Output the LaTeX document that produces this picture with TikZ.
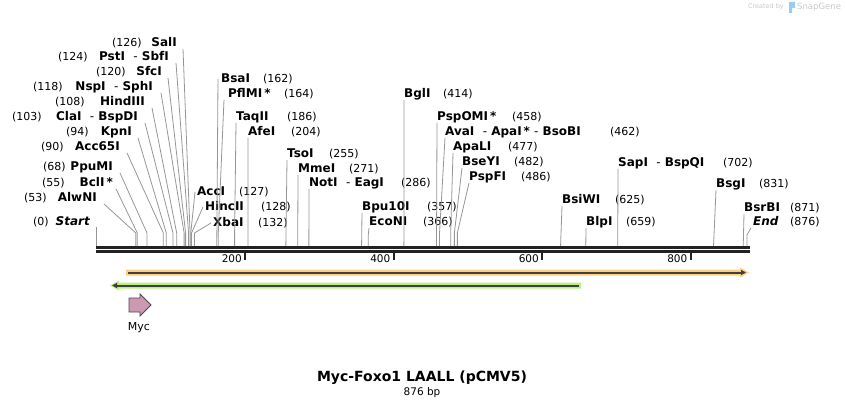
\documentclass[tikz,border=0pt]{standalone}
\usepackage{fontspec}
\setmainfont{DejaVu Sans}[ItalicFont={DejaVu Sans Oblique},BoldItalicFont={DejaVu Sans Bold Oblique}]
\usetikzlibrary{positioning,arrows.meta}

\definecolor{sitegray}{RGB}{150,150,150}
\definecolor{seqblack}{RGB}{34,34,34}
\definecolor{mycpink}{RGB}{204,153,179}
\definecolor{mycedge}{RGB}{80,70,76}
\definecolor{orangehalo}{RGB}{252,206,128}
\definecolor{greenhalo}{RGB}{186,240,130}
\definecolor{featdark}{RGB}{64,64,64}
\definecolor{creditgray}{RGB}{200,200,200}
\definecolor{crediticon}{RGB}{150,205,245}

\tikzset{
  cutname/.style={font=\bfseries\fontsize{12}{14}\selectfont, inner sep=0pt, text height=9pt, text depth=2.5pt},
  cutpos/.style={font=\fontsize{11}{13}\selectfont, inner sep=0pt, text height=9pt, text depth=2.5pt},
  cutline/.style={draw=sitegray, line width=0.8pt},
  seqline/.style={draw=seqblack, line width=3pt},
  tickline/.style={draw=seqblack, line width=2pt},
  rulerlabel/.style={font=\fontsize{10.5}{12}\selectfont, inner sep=0pt, anchor=east},
  featline/.style={draw=featdark, line width=2pt},
  mycarrow/.style={draw=mycedge, fill=mycpink, line width=0.8pt, line join=miter},
  featlabel/.style={font=\fontsize{11}{13}\selectfont, inner sep=0pt},
  titletext/.style={font=\bfseries\fontsize{14}{16}\selectfont, inner sep=0pt},
  sizetext/.style={font=\fontsize{10.5}{12}\selectfont, inner sep=0pt},
  credittext/.style={text=creditgray, inner sep=0pt}
}

\begin{document}
\begin{tikzpicture}[x=1pt, y=-1pt, declare function={bp(\p)=96.5+0.7425*\p;}]
  \useasboundingbox (0,0) rectangle (846,409);

  % Sequence
  \draw[seqline] (96,247.5) -- (750,247.5);
  \draw[seqline] (96,251.5) -- (750,251.5);

  % Ruler
  \coordinate (t200) at ({bp(200)},253);
  \coordinate (t400) at ({bp(400)},253);
  \coordinate (t600) at ({bp(600)},253);
  \coordinate (t800) at ({bp(800)},253);
  \draw[tickline] (t200) -- ++(0,7);
  \draw[tickline] (t400) -- ++(0,7);
  \draw[tickline] (t600) -- ++(0,7);
  \draw[tickline] (t800) -- ++(0,7);
  \node[rulerlabel] (l200) at ({bp(200)-3},259) {200};
  \node[rulerlabel] (l400) at ({bp(400)-3},259) {400};
  \node[rulerlabel] (l600) at ({bp(600)-3},259) {600};
  \node[rulerlabel] (l800) at ({bp(800)-3},259) {800};

  % Left labels
  \node[cutname, anchor=east] (start) at (90,222) {\itshape Start};
  \node[cutpos, anchor=west] (start-n) at (33,222) {(0)};
  \node[cutname, anchor=east] (alwni) at (97,198) {AlwNI};
  \node[cutpos, anchor=west] (alwni-n) at (24,198) {(53)};
  \node[cutname, anchor=east] (bcli) at (113,183) {BclI\,*};
  \node[cutpos, anchor=west] (bcli-n) at (42,183) {(55)};
  \node[cutname, anchor=east] (ppumi) at (113,167) {PpuMI};
  \node[cutpos, anchor=west] (ppumi-n) at (43,167) {(68)};
  \node[cutname, anchor=east] (acc65i) at (120,147) {Acc65I};
  \node[cutpos, anchor=west] (acc65i-n) at (41,147) {(90)};
  \node[cutname, anchor=east] (kpni) at (132,132) {KpnI};
  \node[cutpos, anchor=west] (kpni-n) at (66,132) {(94)};
  \node[cutname, anchor=east] (clai) at (138,117) {ClaI \ {\mdseries -} BspDI};
  \node[cutpos, anchor=west] (clai-n) at (12,117) {(103)};
  \node[cutname, anchor=east] (hindiii) at (145,102) {HindIII};
  \node[cutpos, anchor=west] (hindiii-n) at (55,102) {(108)};
  \node[cutname, anchor=east] (nspi) at (153,87) {NspI \ {\mdseries -} SphI};
  \node[cutpos, anchor=west] (nspi-n) at (33,87) {(118)};
  \node[cutname, anchor=east] (sfci) at (162,72) {SfcI};
  \node[cutpos, anchor=west] (sfci-n) at (96,72) {(120)};
  \node[cutname, anchor=east] (psti) at (169,57) {PstI \ {\mdseries -} SbfI};
  \node[cutpos, anchor=west] (psti-n) at (58,57) {(124)};
  \node[cutname, anchor=east] (sali) at (177,43) {SalI};
  \node[cutpos, anchor=west] (sali-n) at (112,43) {(126)};

  % Right labels
  \node[cutname, anchor=west] (acci) at (197,192) {AccI};
  \node[cutpos, anchor=west] (acci-n) at (239,192) {(127)};
  \node[cutname, anchor=west] (hincii) at (205,207) {HincII};
  \node[cutpos, anchor=west] (hincii-n) at (261,207) {(128)};
  \node[cutname, anchor=west] (xbai) at (213,223) {XbaI};
  \node[cutpos, anchor=west] (xbai-n) at (258,223) {(132)};
  \node[cutname, anchor=west] (bsai) at (221,79) {BsaI};
  \node[cutpos, anchor=west] (bsai-n) at (263,79) {(162)};
  \node[cutname, anchor=west] (pflmi) at (228,94) {PflMI\,*};
  \node[cutpos, anchor=west] (pflmi-n) at (284,94) {(164)};
  \node[cutname, anchor=west] (taqii) at (236,117) {TaqII};
  \node[cutpos, anchor=west] (taqii-n) at (287,117) {(186)};
  \node[cutname, anchor=west] (afei) at (248,132) {AfeI};
  \node[cutpos, anchor=west] (afei-n) at (291,132) {(204)};
  \node[cutname, anchor=west] (tsoi) at (287,154) {TsoI};
  \node[cutpos, anchor=west] (tsoi-n) at (329,154) {(255)};
  \node[cutname, anchor=west] (mmei) at (298,169) {MmeI};
  \node[cutpos, anchor=west] (mmei-n) at (349,169) {(271)};
  \node[cutname, anchor=west] (noti) at (309,183) {NotI \ {\mdseries -} EagI};
  \node[cutpos, anchor=west] (noti-n) at (401,183) {(286)};
  \node[cutname, anchor=west] (bpu10i) at (362,207) {Bpu10I};
  \node[cutpos, anchor=west] (bpu10i-n) at (427,207) {(357)};
  \node[cutname, anchor=west] (econi) at (369,222) {EcoNI};
  \node[cutpos, anchor=west] (econi-n) at (423,222) {(366)};
  \node[cutname, anchor=west] (bgli) at (404,94) {BglI};
  \node[cutpos, anchor=west] (bgli-n) at (443,94) {(414)};
  \node[cutname, anchor=west] (pspomi) at (437,117) {PspOMI\,*};
  \node[cutpos, anchor=west] (pspomi-n) at (512,117) {(458)};
  \node[cutname, anchor=west] (avai) at (445,132) {AvaI \ {\mdseries -} ApaI\,* {\mdseries -} BsoBI};
  \node[cutpos, anchor=west] (avai-n) at (610,132) {(462)};
  \node[cutname, anchor=west] (apali) at (453,147) {ApaLI};
  \node[cutpos, anchor=west] (apali-n) at (508,147) {(477)};
  \node[cutname, anchor=west] (bseyi) at (462,162) {BseYI};
  \node[cutpos, anchor=west] (bseyi-n) at (514,162) {(482)};
  \node[cutname, anchor=west] (pspfi) at (469,177) {PspFI};
  \node[cutpos, anchor=west] (pspfi-n) at (521,177) {(486)};
  \node[cutname, anchor=west] (bsiwi) at (562,200) {BsiWI};
  \node[cutpos, anchor=west] (bsiwi-n) at (615,200) {(625)};
  \node[cutname, anchor=west] (blpi) at (586,222) {BlpI};
  \node[cutpos, anchor=west] (blpi-n) at (626,222) {(659)};
  \node[cutname, anchor=west] (sapi) at (618,163) {SapI \ {\mdseries -} BspQI};
  \node[cutpos, anchor=west] (sapi-n) at (723,163) {(702)};
  \node[cutname, anchor=west] (bsgi) at (716,184) {BsgI};
  \node[cutpos, anchor=west] (bsgi-n) at (759,184) {(831)};
  \node[cutname, anchor=west] (bsrbi) at (744,208) {BsrBI};
  \node[cutpos, anchor=west] (bsrbi-n) at (790,208) {(871)};
  \node[cutname, anchor=west] (end) at (753,222) {\itshape End};
  \node[cutpos, anchor=west] (end-n) at (790,222) {(876)};

  % Sites
  \coordinate (start-s) at ({bp(0)},246);
  \coordinate (alwni-s) at ({bp(53)},246);
  \coordinate (bcli-s) at ({bp(55)},246);
  \coordinate (ppumi-s) at ({bp(68)},246);
  \coordinate (acc65i-s) at ({bp(90)},246);
  \coordinate (kpni-s) at ({bp(94)},246);
  \coordinate (clai-s) at ({bp(103)},246);
  \coordinate (hindiii-s) at ({bp(108)},246);
  \coordinate (nspi-s) at ({bp(118)},246);
  \coordinate (sfci-s) at ({bp(120)},246);
  \coordinate (psti-s) at ({bp(124)},246);
  \coordinate (sali-s) at ({bp(126)},246);
  \coordinate (acci-s) at ({bp(127)},246);
  \coordinate (hincii-s) at ({bp(128)},246);
  \coordinate (xbai-s) at ({bp(132)},246);
  \coordinate (bsai-s) at ({bp(162)},246);
  \coordinate (pflmi-s) at ({bp(164)},246);
  \coordinate (taqii-s) at ({bp(186)},246);
  \coordinate (afei-s) at ({bp(204)},246);
  \coordinate (tsoi-s) at ({bp(255)},246);
  \coordinate (mmei-s) at ({bp(271)},246);
  \coordinate (noti-s) at ({bp(286)},246);
  \coordinate (bpu10i-s) at ({bp(357)},246);
  \coordinate (econi-s) at ({bp(366)},246);
  \coordinate (bgli-s) at ({bp(414)},246);
  \coordinate (pspomi-s) at ({bp(458)},246);
  \coordinate (avai-s) at ({bp(462)},246);
  \coordinate (apali-s) at ({bp(477)},246);
  \coordinate (bseyi-s) at ({bp(482)},246);
  \coordinate (pspfi-s) at ({bp(486)},246);
  \coordinate (bsiwi-s) at ({bp(625)},246);
  \coordinate (blpi-s) at ({bp(659)},246);
  \coordinate (sapi-s) at ({bp(702)},246);
  \coordinate (bsgi-s) at ({bp(831)},246);
  \coordinate (bsrbi-s) at ({bp(871)},246);
  \coordinate (end-s) at ({bp(876)},246);

  % Lines
  \draw[cutline] ([yshift=19pt]start-s) -- (start-s);
  \draw[cutline] ([xshift=7pt]alwni.south east) -- ([yshift=13pt]alwni-s) -- (alwni-s);
  \draw[cutline] ([xshift=3pt]bcli.south east) -- ([yshift=13pt]bcli-s) -- (bcli-s);
  \draw[cutline] ([xshift=7pt]ppumi.south east) -- ([yshift=13pt]ppumi-s) -- (ppumi-s);
  \draw[cutline] ([xshift=7pt]acc65i.south east) -- ([yshift=13pt]acc65i-s) -- (acc65i-s);
  \draw[cutline] ([xshift=6pt]kpni.south east) -- ([yshift=13pt]kpni-s) -- (kpni-s);
  \draw[cutline] ([xshift=7pt]clai.south east) -- ([yshift=13pt]clai-s) -- (clai-s);
  \draw[cutline] ([xshift=7pt]hindiii.south east) -- ([yshift=13pt]hindiii-s) -- (hindiii-s);
  \draw[cutline] ([xshift=8pt]nspi.south east) -- ([yshift=13pt]nspi-s) -- (nspi-s);
  \draw[cutline] ([xshift=6pt]sfci.south east) -- ([yshift=13pt]sfci-s) -- (sfci-s);
  \draw[cutline] ([xshift=7pt]psti.south east) -- ([yshift=13pt]psti-s) -- (psti-s);
  \draw[cutline] ([xshift=6pt]sali.south east) -- ([yshift=13pt]sali-s) -- (sali-s);
  \draw[cutline] ([xshift=-2pt]acci.west) -- ([yshift=13pt]acci-s) -- (acci-s);
  \draw[cutline] ([xshift=-2pt]hincii.west) -- ([yshift=13pt]hincii-s) -- (hincii-s);
  \draw[cutline] ([xshift=-2pt]xbai.west) -- ([yshift=13pt]xbai-s) -- (xbai-s);
  \draw[cutline] ([xshift=-3pt]bsai.west) -- (bsai-s);
  \draw[cutline] ([xshift=-4pt]pflmi.south west) -- ([yshift=13pt]pflmi-s) -- (pflmi-s);
  \draw[cutline] (taqii.south west) -- ([yshift=13pt]taqii-s) -- (taqii-s);
  \draw[cutline] (afei.south west) -- (afei-s);
  \draw[cutline] (tsoi.south west) -- (tsoi-s);
  \draw[cutline] (mmei.south west) -- (mmei-s);
  \draw[cutline] (noti.south west) -- (noti-s);
  \draw[cutline] (bpu10i.south west) -- (bpu10i-s);
  \draw[cutline] (econi.south west) -- ([yshift=11pt]econi-s) -- (econi-s);
  \draw[cutline] (bgli.south west) -- (bgli-s);
  \draw[cutline] (pspomi.south west) -- ([yshift=13pt]pspomi-s) -- (pspomi-s);
  \draw[cutline] (avai.south west) -- ([yshift=13pt]avai-s) -- (avai-s);
  \draw[cutline] (apali.south west) -- ([yshift=13pt]apali-s) -- (apali-s);
  \draw[cutline] (bseyi.south west) -- ([yshift=13pt]bseyi-s) -- (bseyi-s);
  \draw[cutline] (pspfi.south west) -- ([yshift=13pt]pspfi-s) -- (pspfi-s);
  \draw[cutline] (bsiwi.south west) -- (bsiwi-s);
  \draw[cutline] (blpi.south west) -- (blpi-s);
  \draw[cutline] (sapi.south west) -- (sapi-s);
  \draw[cutline] (bsgi.south west) -- (bsgi-s);
  \draw[cutline] (bsrbi.south west) -- (bsrbi-s);
  \draw[cutline] ([xshift=-2pt]end.south west) -- ([yshift=11pt]end-s) -- (end-s);

  % Features
  \fill[orangehalo] (126,269.5) -- (740,269.5) -- (740,267.5) -- (749,272.5) -- (740,277.5) -- (740,275.5) -- (126,275.5) -- cycle;
  \draw[featline, -{Triangle[length=5pt,width=5pt]}] (128,272.5) -- (746,272.5);
  \fill[greenhalo] (110,285.5) -- (119,280.5) -- (119,282.5) -- (581,282.5) -- (581,288.5) -- (119,288.5) -- (119,290.5) -- cycle;
  \draw[featline, -{Triangle[length=5pt,width=5pt]}] (579,285.5) -- (112,285.5);
  \draw[mycarrow] (129,298) -- (140,298) -- (140,294) -- (151,305) -- (140,316) -- (140,312) -- (129,312) -- cycle;
  \node[featlabel] (myc) at (139,328) {Myc};

  % Title
  \node[titletext] (title) at (422,378) {Myc-Foxo1 LAALL (pCMV5)};
  \node[sizetext] (size) at (422,393) {876 bp};

  % Credit
  \node[credittext, font=\fontsize{6.5}{8}\selectfont, anchor=east] (createdby) at (784,7) {Created by};
  \fill[crediticon] (789,2) -- (795,2) -- (795,8) -- (792,8) -- (792,13) -- (789,13) -- cycle;
  \node[credittext, font=\fontsize{8.5}{10}\selectfont, anchor=west] (snapgene) at (797,7) {SnapGene};
\end{tikzpicture}
\end{document}
